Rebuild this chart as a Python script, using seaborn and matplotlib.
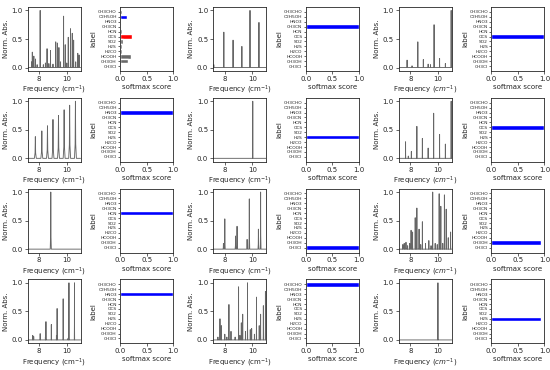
import numpy as np
import pandas as pd
import seaborn as sns
import matplotlib
matplotlib.use("Agg")
import matplotlib.pyplot as plt

labels = ["CH3CHO", "C2H5OH", "HNO3", "CH3CN", "HCN", "OCS", "SO2",
          "H2S", "H2CO", "HCOOH", "CH3OH", "CH3Cl"]

# --- spectra: peak positions (cm-1) and normalised heights
r1g1_freq = [7.45, 7.5, 7.61, 7.73, 7.85, 8.07, 8.3, 8.45, 8.57, 8.7, 8.82, 9.0, 9.2,
             9.32, 9.43, 9.55, 9.77, 9.89, 10.0, 10.11, 10.27, 10.4, 10.5, 10.65, 10.8, 10.9]
r1g1_abs = [0.1, 0.27, 0.2, 0.15, 0.05, 1.0, 0.05, 0.08, 0.33, 0.07, 0.3, 0.06, 0.45,
            0.43, 0.35, 0.1, 0.9, 0.4, 0.08, 0.53, 0.68, 0.6, 0.48, 0.1, 0.25, 0.22]
r1g2_freq = [7.2, 7.93, 8.6, 9.24, 9.83, 10.48]
r1g2_abs = [0.05, 0.62, 0.48, 0.37, 1.0, 0.79]
r1g3_freq = [7.76, 8.12, 8.54, 8.94, 9.29, 9.46, 9.72, 10.12, 10.54, 10.96]
r1g3_abs = [0.13, 0.03, 0.45, 0.14, 0.06, 0.05, 0.75, 0.16, 0.07, 1.0]

r2g1_freq = [7.72, 8.19, 8.6, 9.0, 9.4, 9.81, 10.21, 10.63]
r2g1_abs = [0.38, 0.48, 0.57, 0.68, 0.75, 0.85, 0.93, 1.0]
r2g2_freq = [10.03]
r2g2_abs = [1.0]
r2g3_freq = [7.65, 7.85, 8.07, 8.47, 8.87, 9.29, 9.69, 10.12, 10.54, 10.96]
r2g3_abs = [0.29, 0.04, 0.12, 0.56, 0.35, 0.18, 0.79, 0.42, 0.25, 1.0]

r3g1_freq = [8.84]
r3g1_abs = [1.0]
r3g2_freq = [7.9, 8.0, 8.78, 8.89, 9.62, 9.78, 10.44, 10.6]
r3g2_abs = [0.1, 0.53, 0.23, 0.4, 0.17, 0.88, 0.35, 1.0]
r3g3_freq = [7.45, 7.55, 7.68, 7.8, 7.95, 8.05, 8.16, 8.35, 8.47, 8.63, 8.75, 8.87,
             9.1, 9.34, 9.5, 9.62, 9.8, 9.95, 10.09, 10.21, 10.35, 10.47, 10.6, 10.75, 10.92]
r3g3_abs = [0.08, 0.1, 0.12, 0.06, 0.1, 0.33, 0.3, 0.55, 0.72, 0.35, 0.08, 0.48,
            0.1, 0.15, 0.06, 1.0, 0.1, 0.08, 0.97, 0.75, 0.1, 0.95, 0.7, 0.2, 0.3]

r4g1_freq = [7.53, 7.6, 8.07, 8.45, 8.49, 8.88, 9.25, 9.3, 9.74, 10.1, 10.16, 10.56]
r4g1_abs = [0.08, 0.06, 0.11, 0.05, 0.32, 0.27, 0.08, 0.55, 0.72, 0.03, 1.0, 1.0]
r4g2_freq = [7.5, 7.65, 7.75, 8.0, 8.15, 8.3, 8.45, 8.75, 9.0, 9.1, 9.2, 9.3, 9.5,
             9.65, 9.85, 9.95, 10.15, 10.3, 10.5, 10.6, 10.8, 10.95]
r4g2_abs = [0.05, 0.37, 0.25, 0.1, 0.05, 0.62, 0.15, 0.05, 0.93, 0.08, 0.3, 0.45, 0.15,
            1.0, 0.18, 0.2, 0.1, 0.75, 0.25, 0.45, 0.6, 0.85]
r4g3_freq = [10.0]
r4g3_abs = [1.0]

# --- softmax scores, one per label (same order as `labels`)
r1g1_score = [0.03, 0.12, 0.015, 0.02, 0.03, 0.22, 0.05, 0.03, 0.04, 0.2, 0.14, 0.02]
r1g2_score = [0, 0, 0, 1.0, 0, 0, 0, 0, 0, 0, 0, 0]
r1g3_score = [0, 0, 0, 0, 0, 1.0, 0, 0, 0, 0, 0, 0]
r2g1_score = [0, 0, 1.0, 0, 0, 0, 0, 0, 0, 0, 0, 0]
r2g2_score = [0, 0, 0, 0, 0, 0, 0, 1.0, 0, 0, 0, 0]
r2g3_score = [0, 0, 0, 0, 0, 1.0, 0, 0, 0, 0, 0, 0]
r3g1_score = [0, 0, 0, 0, 1.0, 0, 0, 0, 0, 0, 0, 0]
r3g2_score = [0, 0, 0, 0, 0, 0, 0, 0, 0, 0, 0, 1.0]
r3g3_score = [0.01, 0, 0, 0, 0, 0, 0, 0, 0, 0, 0.93, 0]
r4g1_score = [0, 0, 1.0, 0, 0, 0, 0, 0, 0, 0, 0, 0]
r4g2_score = [1.0, 0, 0, 0, 0, 0, 0, 0, 0, 0, 0, 0]
r4g3_score = [0, 0, 0, 0, 0, 0, 0, 0.94, 0.01, 0, 0, 0]

# true label (blue) and predicted label (red if wrong)
true_label = ["C2H5OH", "CH3CN", "OCS", "HNO3", "H2S", "OCS",
              "HCN", "CH3Cl", "CH3OH", "HNO3", "CH3CHO", "H2S"]
pred_label = ["OCS", "CH3CN", "OCS", "HNO3", "H2S", "OCS",
              "HCN", "CH3Cl", "CH3OH", "HNO3", "CH3CHO", "H2S"]

spectra = [(r1g1_freq, r1g1_abs, 0.012), (r1g2_freq, r1g2_abs, 0.015), (r1g3_freq, r1g3_abs, 0.012),
           (r2g1_freq, r2g1_abs, 0.07), (r2g2_freq, r2g2_abs, 0.008), (r2g3_freq, r2g3_abs, 0.012),
           (r3g1_freq, r3g1_abs, 0.04), (r3g2_freq, r3g2_abs, 0.03), (r3g3_freq, r3g3_abs, 0.012),
           (r4g1_freq, r4g1_abs, 0.012), (r4g2_freq, r4g2_abs, 0.012), (r4g3_freq, r4g3_abs, 0.008)]
scores = [r1g1_score, r1g2_score, r1g3_score, r2g1_score, r2g2_score, r2g3_score,
          r3g1_score, r3g2_score, r3g3_score, r4g1_score, r4g2_score, r4g3_score]

XMIN, XMAX = 7.15, 11.0


def stick_line(freq, ab, w):
    # baseline -> each peak -> baseline
    xs, ys = [XMIN], [0.0]
    for f, h in sorted(zip(freq, ab)):
        xs += [f - w, f - w * 0.3, f, f + w * 0.3, f + w]
        ys += [0.0, h * 0.25, h, h * 0.25, 0.0]
    xs.append(XMAX)
    ys.append(0.0)
    return pd.DataFrame({"freq": xs, "abs": ys})


sns.set_style("ticks")
plt.rcParams.update({"axes.linewidth": 0.6, "xtick.major.size": 2, "ytick.major.size": 2,
                     "xtick.major.width": 0.5, "ytick.major.width": 0.5})

fig, axes = plt.subplots(4, 6, figsize=(5.5, 3.7), dpi=100)
plt.subplots_adjust(left=0.05, right=0.99, top=0.981, bottom=0.072, wspace=0.75, hspace=0.42)

for i in range(12):
    r, g = divmod(i, 3)
    ax_s = axes[r, 2 * g]
    ax_b = axes[r, 2 * g + 1]

    freq, ab, w = spectra[i]
    df = stick_line(freq, ab, w)
    sns.lineplot(data=df, x="freq", y="abs", sort=False, estimator=None,
                 color="k", lw=0.65, alpha=0.6, ax=ax_s)
    ax_s.set_xlim(XMIN, XMAX)
    ax_s.set_ylim(-0.06, 1.06)
    ax_s.set_xticks([8, 10])
    ax_s.set_yticks([0.0, 0.5, 1.0])
    ax_s.set_ylabel("Norm. Abs.", fontsize=5)
    if g == 2:
        ax_s.set_xlabel("Frequency ($cm^{-1}$)", fontsize=5)
    else:
        ax_s.set_xlabel("Frequency (cm$^{-1}$)", fontsize=5)
    ax_s.tick_params(labelsize=5, pad=1.5)
    ax_s.xaxis.labelpad = 1.5
    ax_s.yaxis.labelpad = 2

    cols = []
    for lab in labels:
        if lab == true_label[i]:
            cols.append("blue")
        elif lab == pred_label[i]:
            cols.append("red")
        else:
            cols.append("dimgray")
    bdf = pd.DataFrame({"label": labels, "score": scores[i]})
    sns.barplot(data=bdf, x="score", y="label", hue="label", palette=cols,
                legend=False, orient="h", width=0.92, saturation=1, ax=ax_b)
    ax_b.set_xlim(0, 1)
    ax_b.set_ylim(11.99, -0.99)
    ax_b.set_xticks([0.0, 0.5, 1.0])
    ax_b.set_xlabel("softmax score", fontsize=5)
    ax_b.set_ylabel("label", fontsize=5)
    ax_b.tick_params(axis="x", labelsize=5, pad=1.5)
    ax_b.tick_params(axis="y", labelsize=3.2, pad=1, length=1.5)
    ax_b.xaxis.labelpad = 1.5
    ax_b.yaxis.labelpad = 1

fig.savefig("out.png", dpi=100)
